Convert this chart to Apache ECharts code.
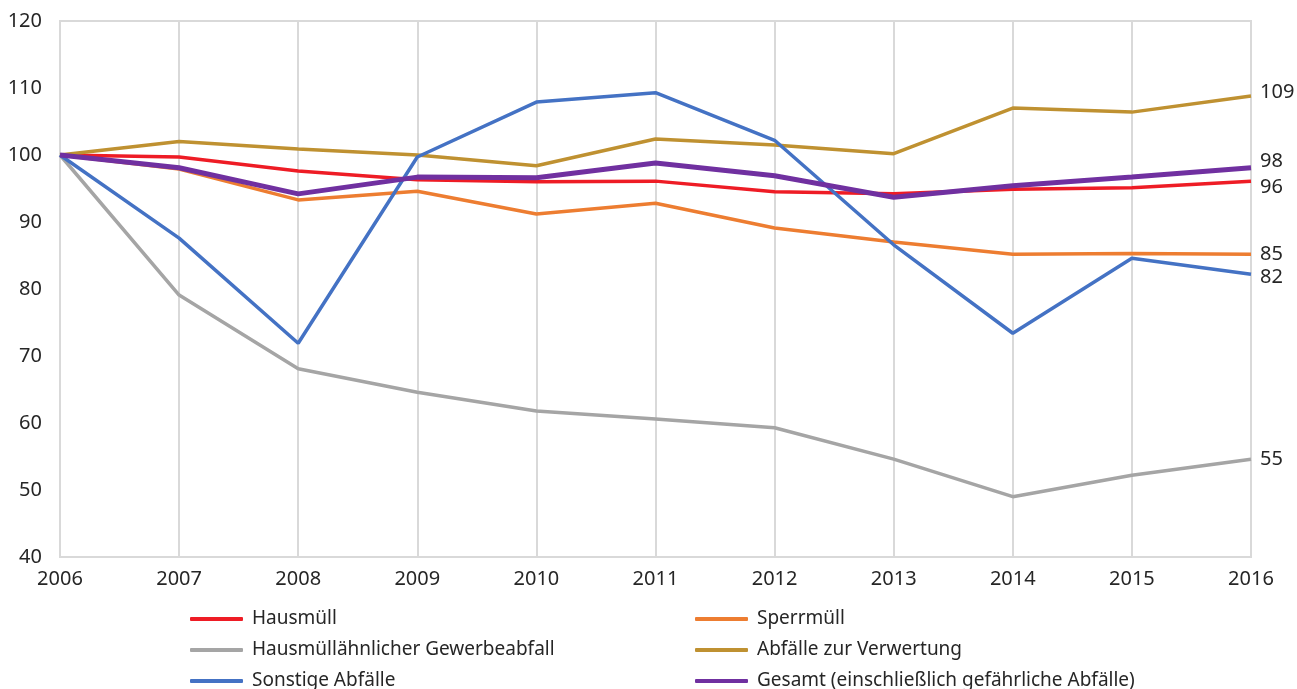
<!DOCTYPE html>
<html>
<head>
<meta charset="utf-8">
<script src="https://cdn.jsdelivr.net/npm/echarts@6/dist/echarts.min.js"></script>
<style>
    html, body { margin: 0; padding: 0; background: #fff; }
    #abfall { width: 1297px; height: 689px; }
</style>
</head>
<body>
<div id="abfall"></div>
<script>
    let years = ['2006', '2007', '2008', '2009', '2010', '2011', '2012', '2013', '2014', '2015', '2016'];

    // Index 2006 = 100
    let data = [
        {name: 'Hausmüll', color: '#ee1c25', width: 3.5, dy: 6,
            values: [100, 99.7, 97.6, 96.3, 96.0, 96.1, 94.5, 94.2, 94.9, 95.1, 96.1]},
        {name: 'Sperrmüll', color: '#ed7d31', width: 3.5, dy: 0,
            values: [100, 97.9, 93.3, 94.6, 91.2, 92.8, 89.1, 87.0, 85.2, 85.3, 85.2]},
        {name: 'Hausmüllähnlicher Gewerbeabfall', color: '#a5a5a5', width: 3.5, dy: 0,
            values: [100, 79.1, 68.1, 64.6, 61.8, 60.6, 59.3, 54.6, 49.0, 52.2, 54.6]},
        {name: 'Abfälle zur Verwertung', color: '#bf9131', width: 3.5, dy: -4,
            values: [100, 102.0, 100.9, 100.0, 98.4, 102.4, 101.5, 100.2, 107.0, 106.4, 108.8]},
        {name: 'Sonstige Abfälle', color: '#4472c4', width: 3.5, dy: 3,
            values: [100, 87.6, 71.9, 99.7, 107.9, 109.3, 102.2, 86.6, 73.4, 84.6, 82.2]},
        {name: 'Gesamt (einschließlich gefährliche Abfälle)', color: '#7030a0', width: 5, dy: -6,
            values: [100, 98.1, 94.2, 96.7, 96.6, 98.8, 96.9, 93.7, 95.4, 96.7, 98.1]}
    ];

    let font = '"Noto Sans", "Open Sans", sans-serif';
    let textColor = '#262626';

    let seriesList = data.map((item)=> {
        return {
            name: item.name,
            type: 'line',
            data: item.values,
            showSymbol: false,
            symbol: 'none',
            color: item.color,
            lineStyle: {width: item.width, color: item.color},
            endLabel: {
                show: true,
                distance: 9,
                offset: [0, item.dy],
                color: textColor,
                fontFamily: font,
                fontSize: 20,
                formatter: (p)=> Math.round(p.value)
            }
        };
    });

    let legendBase = {
        orient: 'vertical',
        top: 609,
        height: 100,
        padding: 0,
        itemWidth: 53,
        itemHeight: 4,
        itemGap: 11,
        icon: 'roundRect',
        textStyle: {color: textColor, fontFamily: font, fontSize: 19, lineHeight: 20, padding: [0, 0, 0, 4]}
    };

    let myChart = echarts.init(document.getElementById('abfall'));
    let option = {
        animation: false,
        backgroundColor: '#fff',
        textStyle: {fontFamily: font},
        grid: {
            left: 60, right: 46, top: 21, bottom: 132,
            show: true, borderColor: '#d9d9d9', borderWidth: 2
        },
        legend: [
            Object.assign({}, legendBase, {left: 190, data: [data[0].name, data[2].name, data[4].name]}),
            Object.assign({}, legendBase, {left: 695, data: [data[1].name, data[3].name, data[5].name]})
        ],
        xAxis: {
            type: 'category',
            data: years,
            boundaryGap: false,
            axisLine: {show: true, lineStyle: {color: '#d9d9d9', width: 2}},
            axisTick: {show: false},
            axisLabel: {color: textColor, fontSize: 20, margin: 12, fontFamily: font},
            splitLine: {show: true, lineStyle: {color: '#d9d9d9', width: 2}}
        },
        yAxis: {
            type: 'value',
            min: 40,
            max: 120,
            interval: 10,
            axisLine: {show: false},
            axisTick: {show: false},
            axisLabel: {color: textColor, fontSize: 20, margin: 18, fontFamily: font},
            splitLine: {show: false}
        },
        series: seriesList
    };
    myChart.setOption(option);
</script>
</body>
</html>
